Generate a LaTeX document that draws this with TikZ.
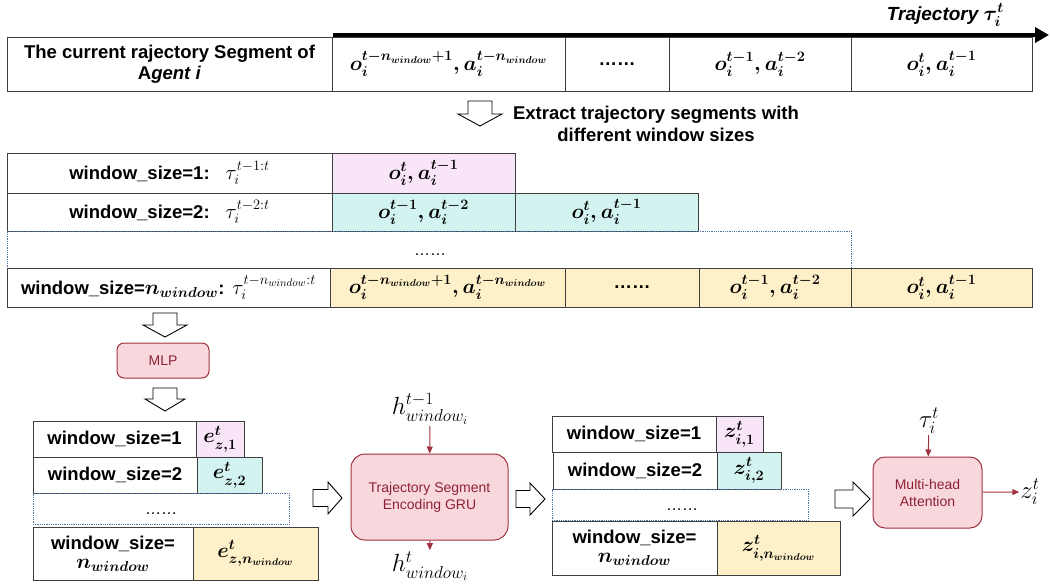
\documentclass[tikz,border=0pt]{standalone}
\usepackage[no-math]{fontspec}
\setmainfont{Liberation Sans}
\usepackage{amsmath,bm}
\usetikzlibrary{arrows.meta}
\definecolor{cellline}{HTML}{3F3F3F}
\definecolor{pinkc}{HTML}{F8E6F8}
\definecolor{tealc}{HTML}{D3F3F0}
\definecolor{yelc}{HTML}{FEF0C8}
\definecolor{redfill}{HTML}{F8D8DD}
\definecolor{redline}{HTML}{A0323F}
\definecolor{redtext}{HTML}{8E2233}
\definecolor{dotline}{HTML}{5572A8}
% one table cell, given by its corners: name, x1, y1, x2, y2, extra style, text
\newcommand\cellat[7]{%
  \pgfmathsetmacro\cw{#4-#2}\pgfmathsetmacro\ch{#5-#3}%
  \node[cellbox,#6,minimum width=\cw pt,minimum height=\ch pt] (#1) at ({(#2+#4)/2},{(#3+#5)/2}) {#7};}
% hollow block arrows
\newcommand\blockdown[5]{% cx, ytop, ybot, shaft half width, head half width
  \draw[blockarrow] (#1-#4,#2) -- (#1+#4,#2) -- (#1+#4,#3-12) -- (#1+#5,#3-12)
    -- (#1,#3) -- (#1-#5,#3-12) -- (#1-#4,#3-12) -- cycle;}
\newcommand\blockright[6]{% x1, x2, cy, head length, shaft half, head half
  \draw[blockarrow] (#1,#3-#5) -- (#2-#4,#3-#5) -- (#2-#4,#3-#6) -- (#2,#3)
    -- (#2-#4,#3+#6) -- (#2-#4,#3+#5) -- (#1,#3+#5) -- cycle;}
\newcommand\OA[2]{{\fontsize{20.5}{24}\selectfont\boldmath$o_i^{#1}, a_i^{#2}$}}
\newcommand\bmath[1]{{\fontsize{20.5}{24}\selectfont\boldmath$#1$}}
\newcommand\taulbl[1]{{\fontsize{21}{24}\selectfont\mdseries$\tau_i^{#1}$}}
\begin{document}
\begin{tikzpicture}[x=1pt,y=-1pt,
  cellbox/.style={draw=cellline,line width=0.8pt,inner sep=0pt,align=center,
    font=\fontsize{18.5}{21}\selectfont\bfseries},
  dotbox/.style={draw=dotline,densely dotted,line width=0.8pt,inner sep=0pt},
  blockarrow/.style={draw=black,line width=0.9pt,fill=white,line join=miter},
  redbox/.style={draw=redline,fill=redfill,line width=1pt,text=redtext,align=center,
    font=\fontsize{14}{17}\selectfont},
  redarrow/.style={draw=redline,line width=1pt,-{Triangle[length=7pt,width=6pt]}},
  mathlbl/.style={inner sep=1pt,font=\fontsize{24}{28}\selectfont},
  dotstxt/.style={font=\fontsize{16}{18}\selectfont}]
\useasboundingbox (0,0) rectangle (1050,584);

% current trajectory segment
\cellat{seg0}{7}{37}{332}{91}{}{The current rajectory Segment of\\A\textit{gent i}}
\cellat{seg1}{332}{37}{565}{91}{}{\OA{t-n_{window}+1}{t-n_{window}}}
\cellat{seg2}{565}{37}{669}{91}{}{……}
\cellat{seg3}{669}{37}{851}{91}{}{\OA{t-1}{t-2}}
\cellat{seg4}{851}{37}{1032}{91}{}{\OA{t}{t-1}}
\coordinate (trajstart) at (333,35);
\coordinate (trajend) at (1049,35);
\draw[line width=4.5pt,-{Triangle[length=14pt,width=15pt]}] (trajstart) -- (trajend);
\node[anchor=east,inner sep=0pt,font=\fontsize{19}{22}\selectfont\bfseries\itshape] (trajlbl) at (1004,15)
  {Trajectory {\fontsize{22}{24}\selectfont\boldmath$\tau_i^t$}};

% extraction step
\blockdown{480}{101}{126}{12}{22}
\node[align=center,font=\fontsize{18.5}{22}\selectfont\bfseries] (extract) at (656,124)
  {Extract trajectory segments with\\different window sizes};

% segments of each window size
\cellat{w1l}{7}{153}{332}{193}{}{window\_size=1:\hspace{16pt}\taulbl{t-1:t}}
\cellat{w1a}{332}{153}{515}{193}{fill=pinkc}{\OA{t}{t-1}}
\cellat{w2l}{7}{193}{332}{231}{}{window\_size=2:\hspace{16pt}\taulbl{t-2:t}}
\cellat{w2a}{332}{193}{515}{231}{fill=tealc}{\OA{t-1}{t-2}}
\cellat{w2b}{515}{193}{698}{231}{fill=tealc}{\OA{t}{t-1}}
\cellat{wdots}{7}{231}{851}{268}{dotbox}{}
\node[dotstxt] (wdotstxt) at (430,255) {……};
\cellat{wnl}{7}{268}{330}{307}{}{window\_size=\bmath{n_{window}}:\hspace{8pt}\taulbl{t-n_{window}:t}}
\cellat{wna}{330}{268}{565}{307}{fill=yelc}{\OA{t-n_{window}+1}{t-n_{window}}}
\cellat{wnb}{565}{268}{699}{307}{fill=yelc}{……}
\cellat{wnc}{699}{268}{851}{307}{fill=yelc}{\OA{t-1}{t-2}}
\cellat{wnd}{851}{268}{1032}{307}{fill=yelc}{\OA{t}{t-1}}

% MLP embedding
\blockdown{165}{313}{337}{12}{22}
\node[redbox,rounded corners=7pt,minimum width=92pt,minimum height=35pt] (mlp) at (163,360.5) {MLP};
\blockdown{165}{388}{411}{12}{20}

% embedded segments
\cellat{e1l}{33}{421}{196}{457}{}{window\_size=1}
\cellat{e1}{196}{421}{244}{457}{fill=pinkc}{\bmath{e_{z,1}^t}}
\cellat{e2l}{33}{457}{197}{493}{}{window\_size=2}
\cellat{e2}{197}{457}{262}{493}{fill=tealc}{\bmath{e_{z,2}^t}}
\cellat{edots}{33}{493}{289}{524}{dotbox}{}
\node[dotstxt] (edotstxt) at (161,514) {……};
\cellat{enl}{33}{527}{193}{580}{}{window\_size=\\[-2pt]\bmath{n_{window}}}
\cellat{en}{193}{527}{318}{580}{fill=yelc}{\bmath{e_{z,n_{window}}^t}}

% GRU encoder
\blockright{313}{342}{498}{14}{8.5}{16}
\node[redbox,rounded corners=14pt,minimum width=157pt,minimum height=86pt] (gru) at (429.5,497)
  {Trajectory Segment\\Encoding GRU};
\node[mathlbl] (hprev) at (430,409) {$h_{window_i}^{t-1}$};
\node[mathlbl] (hnext) at (430,566) {$h_{window_i}^{t}$};
\draw[redarrow] (hprev) -- (gru);
\draw[redarrow] (gru) -- (hnext);

% encoded segments
\blockright{516}{545}{499}{15}{8.5}{16}
\cellat{z1l}{552}{416}{716}{452}{}{window\_size=1}
\cellat{z1}{716}{416}{763}{452}{fill=pinkc}{\bmath{z_{i,1}^t}}
\cellat{z2l}{553}{452}{717}{489}{}{window\_size=2}
\cellat{z2}{717}{452}{781}{489}{fill=tealc}{\bmath{z_{i,2}^t}}
\cellat{zdots}{552}{489}{808}{520}{dotbox}{}
\node[dotstxt] (zdotstxt) at (682,510) {……};
\cellat{znl}{552}{521}{717}{575}{}{window\_size=\\[-2pt]\bmath{n_{window}}}
\cellat{zn}{717}{521}{840}{575}{fill=yelc}{\bmath{z_{i,n_{window}}^t}}

% attention fusion
\blockright{835}{870}{499}{17}{9}{17}
\node[redbox,rounded corners=12pt,minimum width=109pt,minimum height=71pt] (att) at (927.5,492.5)
  {Multi-head\\Attention};
\node[mathlbl] (tauin) at (929,421) {$\tau_i^t$};
\node[mathlbl] (zout) at (1030,492) {$z_i^t$};
\draw[redarrow] (tauin) -- (att);
\draw[redarrow] (att) -- (zout);
\end{tikzpicture}
\end{document}
